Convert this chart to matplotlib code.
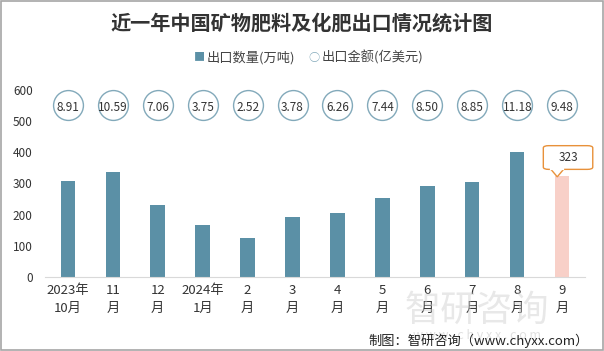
import matplotlib.pyplot as plt
from matplotlib.patches import Polygon, FancyBboxPatch

plt.rcParams['font.family'] = ['Noto Sans CJK SC', 'DejaVu Sans']

months = ["2023年\n10月", "11\n月", "12\n月", "2024年\n1月", "2\n月", "3\n月",
          "4\n月", "5\n月", "6\n月", "7\n月", "8\n月", "9\n月"]
volume = [308, 336, 231, 167, 126, 192, 205, 253, 292, 304, 401, 323]  # 万吨
amount = [8.91, 10.59, 7.06, 3.75, 2.52, 3.78, 6.26, 7.44, 8.50, 8.85, 11.18, 9.48]  # 亿美元

bar_c = '#5b90a6'
last_c = '#f8d0c8'
circ_c = '#82a9ba'
call_c = '#e8913a'

fig = plt.figure(figsize=(6.04, 3.51), dpi=100)
ax = fig.add_axes([0.075, 0.211, 0.893, 0.533])

x = list(range(len(months)))
colors = [bar_c] * (len(x) - 1) + [last_c]
ax.bar(x, volume, width=0.32, color=colors, zorder=2)

# amount row shown as circles above the bars
row_y = 550
ax.plot(x, [row_y] * len(x), ls='none', marker='o', ms=21.5, mfc='white',
        mec=circ_c, mew=1.0, clip_on=False, zorder=3)
for xi, v in zip(x, amount):
    ax.text(xi, row_y - 8, f"{v:.2f}", ha='center', va='center', fontsize=8.5,
            color='#333333', zorder=4)

# callout for the last bar
lx, lv = x[-1], volume[-1]
ax.add_patch(FancyBboxPatch((lx - 0.42, lv + 22), 1.1, 76,
                            boxstyle='round,pad=0,rounding_size=0.12',
                            mutation_aspect=60, fc='white', ec=call_c, lw=1.0,
                            zorder=5, clip_on=False))
ax.add_patch(Polygon([[lx - 0.25, lv + 22], [lx - 0.11, lv - 2], [lx + 0.03, lv + 22]],
                     closed=False, fc='white', ec=call_c, lw=1.0, zorder=6, clip_on=False))
ax.plot([lx - 0.245, lx + 0.025], [lv + 22, lv + 22], color='white', lw=1.6, zorder=6.5,
        clip_on=False)
ax.text(lx + 0.13, lv + 61, str(lv), ha='center', va='center', fontsize=8.5,
        color='#333333', zorder=7)

ax.set_xlim(-0.5, len(x) - 0.5)
ax.set_ylim(0, 600)
ax.set_yticks(range(0, 601, 100))
ax.set_xticks(x)
ax.set_xticklabels(months, fontsize=9.5, color='#333333', linespacing=1.5)
ax.tick_params(axis='y', labelsize=8.5, colors='#333333', length=0, pad=9)
ax.tick_params(axis='x', length=0, pad=5)
for s in ['top', 'right', 'left']:
    ax.spines[s].set_visible(False)
ax.spines['bottom'].set_color('#d9d9d9')

fig.text(0.5, 0.935, "近一年中国矿物肥料及化肥出口情况统计图", ha='center', va='center',
         fontsize=14.5, fontweight='bold', color='#333333')

# legend
fig.text(0.330, 0.836, "■", ha='center', va='center', fontsize=8, color=bar_c)
fig.text(0.342, 0.836, "出口数量(万吨)", ha='left', va='center', fontsize=9.5, color='#444444')
fig.text(0.519, 0.836, "○", ha='center', va='center', fontsize=8, color=circ_c)
fig.text(0.533, 0.836, "出口金额(亿美元)", ha='left', va='center', fontsize=9.5, color='#444444')

# watermark and source
fig.text(0.79, 0.115, "智研咨询", ha='center', va='center', fontsize=26, color='#cccccc',
         alpha=0.45, zorder=0)
fig.text(0.79, 0.045, "w w w . c h y x x . c o m", ha='center', va='center', fontsize=9,
         color='#cccccc', alpha=0.6)
fig.text(0.975, 0.03, "制图：智研咨询（www.chyxx.com）", ha='right', va='center',
         fontsize=9.5, color='#222222')

fig.patches.append(plt.Rectangle((0.001, 0.002), 0.997, 0.995, transform=fig.transFigure,
                                 fill=False, ec='#a6a6a6', lw=1.2))

fig.savefig('out.png', dpi=100)
